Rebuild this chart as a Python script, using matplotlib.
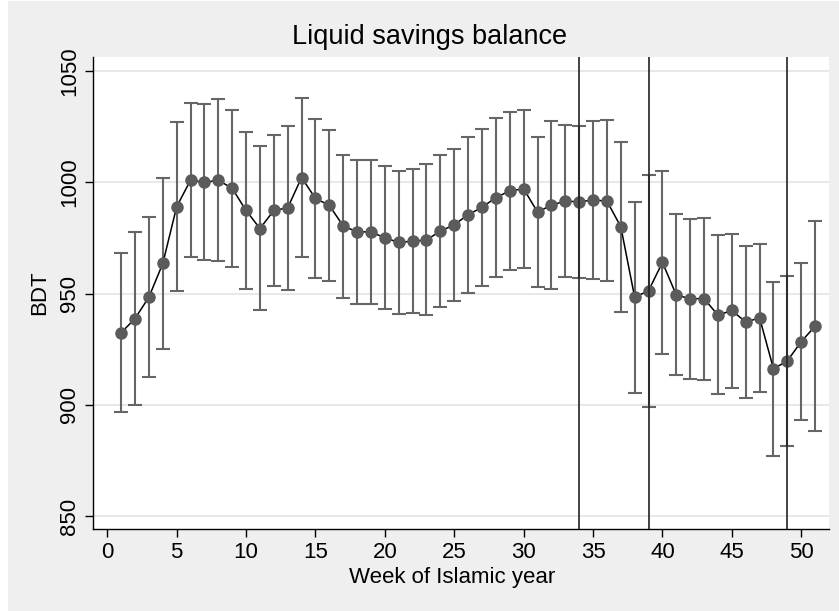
import matplotlib.pyplot as plt
import matplotlib.patches as patches
import numpy as np

plt.rcParams['font.family'] = ['Liberation Sans', 'DejaVu Sans']

# weekly mean liquid savings balance with 95% CI
weeks = np.arange(1, 52)
balance = [932.4, 938.8, 948.4, 963.5, 989.0, 1000.9, 999.9, 1000.9, 997.2, 987.3,
           979.2, 987.3, 988.5, 1002.1, 992.7, 989.6, 980.3, 977.7, 977.7, 975.0,
           973.0, 973.5, 974.1, 978.0, 980.9, 985.4, 988.7, 993.1, 996.1, 997.0,
           986.6, 989.7, 991.5, 991.2, 992.0, 991.5, 980.0, 948.3, 951.3, 964.0,
           949.3, 947.7, 947.7, 940.3, 942.4, 937.2, 939.1, 916.2, 919.8, 928.4,
           935.4]
ci_upper = [968.3, 977.7, 984.5, 1002.0, 1027.0, 1035.5, 1034.9, 1037.3, 1032.2, 1022.6,
            1016.2, 1021.4, 1025.2, 1037.6, 1028.3, 1023.4, 1012.3, 1009.9, 1009.9, 1007.4,
            1005.1, 1006.0, 1008.1, 1012.0, 1015.1, 1020.5, 1024.1, 1028.6, 1031.4, 1032.2,
            1020.5, 1027.4, 1025.8, 1025.3, 1027.4, 1027.7, 1018.1, 991.1, 1003.2, 1005.1,
            985.5, 983.6, 983.9, 976.1, 976.8, 971.3, 972.2, 955.1, 957.8, 963.8,
            982.7]
ci_lower = [896.9, 899.8, 912.5, 925.2, 951.3, 966.4, 964.9, 964.6, 962.0, 952.2,
            942.6, 953.2, 951.6, 966.4, 956.8, 955.7, 948.1, 945.4, 945.4, 942.9,
            940.6, 941.1, 940.5, 943.9, 946.5, 950.2, 953.2, 957.5, 960.8, 961.4,
            952.8, 952.0, 957.4, 956.9, 956.5, 955.7, 941.8, 905.2, 899.2, 922.8,
            913.4, 911.5, 911.3, 904.9, 907.7, 903.1, 905.8, 877.2, 881.7, 893.2,
            888.4]
event_weeks = [34, 39, 49]
yticks = [850, 900, 950, 1000, 1050]
xticks = np.arange(0, 55, 5)

W, H = 839, 611
fig = plt.figure(figsize=(W / 100, H / 100), dpi=100, facecolor='white')
fig.patches.append(patches.Rectangle((8 / W, 0), 1 - 8 / W, 1 - 1 / H,
                                     transform=fig.transFigure, facecolor='#efefef',
                                     edgecolor='none', zorder=-10))

ax = fig.add_axes([92.7 / W, 1 - 529 / H, (829 - 92.7) / W, (529 - 57) / H])
ax.set_facecolor('white')

balance = np.array(balance)
yerr = [balance - np.array(ci_lower), np.array(ci_upper) - balance]
ax.errorbar(weeks, balance, yerr=yerr, fmt='none', ecolor='#666666',
            elinewidth=1.5, capsize=5, capthick=1.5, zorder=3)
ax.plot(weeks, balance, color='black', lw=1.1, zorder=4)
ax.plot(weeks, balance, 'o', color='#5b5b5b', markersize=8, zorder=5)

for w in event_weeks:
    ax.axvline(w, color='#222222', lw=1.2, zorder=6)

ax.set_xlim(-1.05, 52.0)
ax.set_ylim(844.3, 1056.2)
ax.set_yticks(yticks)
ax.set_xticks(xticks)
ax.grid(axis='y', color='#e6e6e6', lw=1.3, zorder=0)
ax.set_axisbelow(True)

for s in ['top', 'right']:
    ax.spines[s].set_visible(False)
for s in ['left', 'bottom']:
    ax.spines[s].set_color('black')
    ax.spines[s].set_linewidth(1.0)

ax.tick_params(axis='both', direction='out', length=6, width=1, colors='black',
               labelsize=16)
ax.tick_params(axis='y', pad=3)
ax.tick_params(axis='x', pad=3)
plt.setp(ax.get_yticklabels(), rotation=90, va='center')

fig.text(40 / W, 1 - 293 / H, 'BDT', rotation=90, ha='center', va='center', fontsize=16)
fig.text(452 / W, 1 - 577 / H, 'Week of Islamic year', ha='center', va='center', fontsize=16)
fig.text(430 / W, 1 - 37 / H, 'Liquid savings balance', ha='center', va='center', fontsize=19.5)

fig.savefig('out.png', dpi=100, facecolor=fig.get_facecolor())
